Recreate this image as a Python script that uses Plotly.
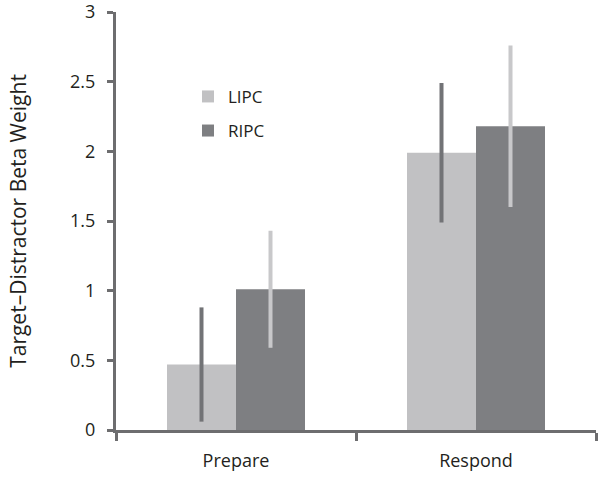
import plotly.graph_objs as go

# Data
conditions = ['Prepare', 'Respond']
lipc_values = [0.47, 1.99]
lipc_errors = [0.41, 0.50]
ripc_values = [1.01, 2.18]
ripc_errors = [0.42, 0.58]
y_ticks = [0, 0.5, 1, 1.5, 2, 2.5, 3]
y_tick_labels = ['0', '0.5', '1', '1.5', '2', '2.5', '3']

light_gray = '#c1c1c3'
dark_gray = '#7e7f82'
axis_gray = '#6d6d6f'


def main():
    fig = go.Figure()

    fig.add_trace(go.Bar(
        x=conditions, y=lipc_values,
        name='LIPC',
        marker=dict(color=light_gray, line=dict(width=0)),
        error_y=dict(type='data', array=lipc_errors, visible=True,
                     color='#727376', thickness=4, width=0),
        legendgroup='lipc'
    ))
    fig.add_trace(go.Bar(
        x=conditions, y=ripc_values,
        name='RIPC',
        marker=dict(color=dark_gray, line=dict(width=0)),
        error_y=dict(type='data', array=ripc_errors, visible=True,
                     color='#c8c8ca', thickness=4, width=0),
        legendgroup='ripc'
    ))

    fig.update_layout(
        width=600, height=478,
        margin=dict(l=116, r=4, t=12, b=48),
        plot_bgcolor='white',
        paper_bgcolor='white',
        font=dict(family='Open Sans', color='#231f20', size=18),
        barmode='group',
        bargap=0.425,
        bargroupgap=0,
        legend=dict(
            x=0.15, y=0.84, xanchor='left', yanchor='top',
            font=dict(size=17),
            traceorder='grouped',
            tracegroupgap=9,
            bgcolor='rgba(0,0,0,0)'
        ),
        xaxis=dict(
            range=[-0.5, 1.5],
            automargin=False,
            showline=True, linecolor=axis_gray, linewidth=3,
            ticks='outside', tickson='boundaries', ticklen=8,
            tickwidth=3, tickcolor=axis_gray,
            showgrid=False, zeroline=False,
            ticklabelstandoff=12,
            tickfont=dict(size=18)
        ),
        yaxis=dict(
            range=[0, 3],
            automargin=False,
            tickvals=y_ticks, ticktext=y_tick_labels,
            showline=True, linecolor=axis_gray, linewidth=3,
            ticks='outside', ticklen=6, tickwidth=3, tickcolor=axis_gray,
            showgrid=False, zeroline=False,
            ticklabelstandoff=8,
            ticklabeloverflow='allow',
            tickfont=dict(size=18),
            title=dict(text='Target–Distractor Beta Weight',
                       font=dict(size=21), standoff=38)
        )
    )

    # drop the default 8px page margin so the figure fills the window
    fig.write_html('out.html', config={'displayModeBar': False},
                   post_script="document.body.style.margin='0';")


if __name__ == '__main__':
    main()
